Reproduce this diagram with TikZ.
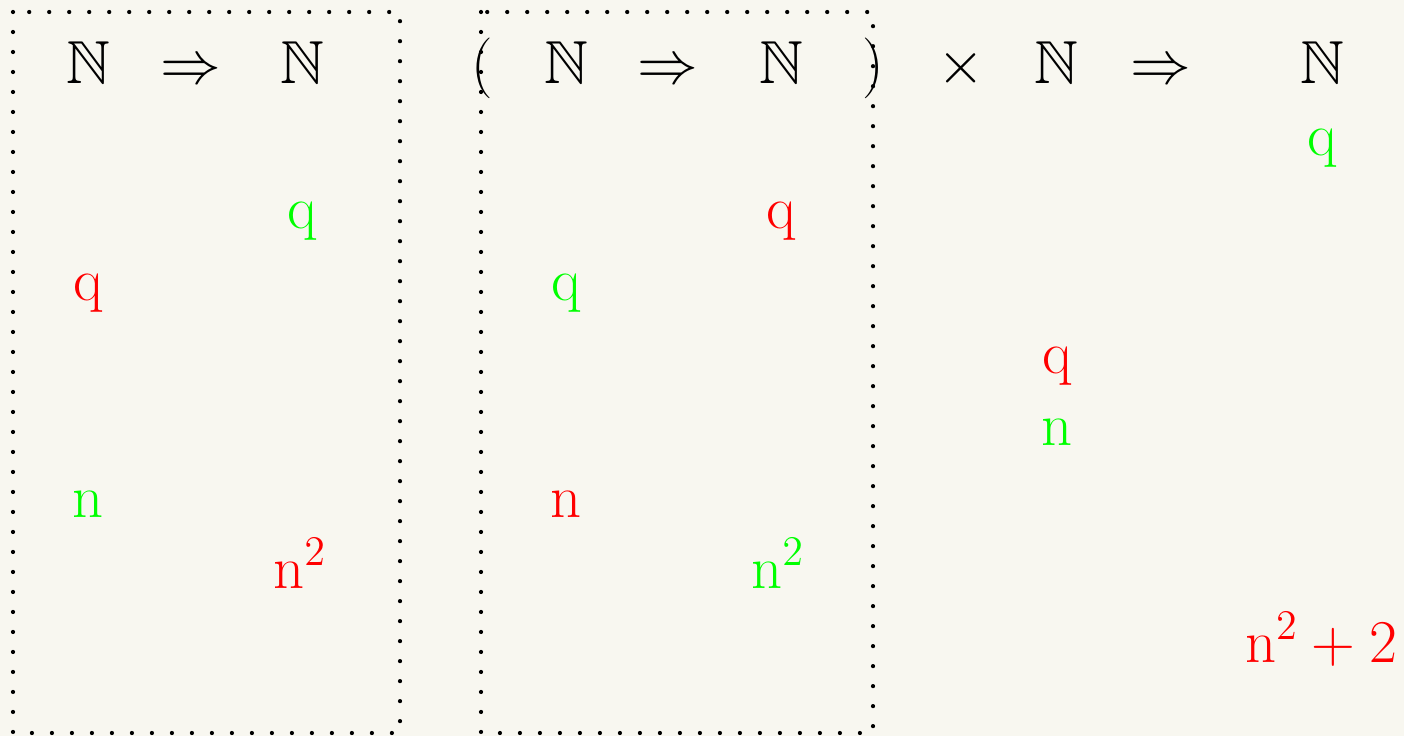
\documentclass[tikz,border=0pt]{standalone}
\usepackage{xcolor}
\usepackage{amssymb}
\usepackage{tikz}
\usetikzlibrary{positioning}
\definecolor{paper}{HTML}{F8F7F0}
\definecolor{hot}{HTML}{FF0000}
\definecolor{cold}{HTML}{00FF00}

\begin{document}
\begin{tikzpicture}[font=\LARGE,
  sym/.style={inner sep=0pt, anchor=base},
  gterm/.style={sym, text=cold},
  rterm/.style={sym, text=hot},
  frame/.style={line width=1.2pt, dash pattern=on 0pt off 5.69pt, line cap=round}]
\fill[paper] (0,0) rectangle (14.04,-7.36);
\useasboundingbox (0,0) rectangle (14.04,-7.36);
% type line
\node[sym] (n1) at (0.88,-0.83) {$\mathbb{N}$};
\node[sym] (to1) at (1.91,-0.83) {$\Rightarrow$};
\node[sym] (n2) at (3.02,-0.83) {$\mathbb{N}$};
\node[sym] (lp) at (4.82,-0.83) {$($};
\node[sym] (n3) at (5.66,-0.83) {$\mathbb{N}$};
\node[sym] (to2) at (6.68,-0.83) {$\Rightarrow$};
\node[sym] (n4) at (7.81,-0.83) {$\mathbb{N}$};
\node[sym] (rp) at (8.73,-0.83) {$)$};
\node[sym] (tm) at (9.61,-0.83) {$\times$};
\node[sym] (n5) at (10.56,-0.83) {$\mathbb{N}$};
\node[sym] (to3) at (11.61,-0.83) {$\Rightarrow$};
\node[sym] (n6) at (13.22,-0.83) {$\mathbb{N}$};
% square
\node[gterm] (qa) at (3.02,-2.28) {q};
\node[rterm] (qb) at (0.88,-3.00) {q};
\node[gterm] (na) at (0.88,-5.17) {n};
\node[rterm] (sa) at (3.00,-5.88) {n$^2$};
% argument
\node[rterm] (qc) at (7.81,-2.28) {q};
\node[gterm] (qd) at (5.66,-3.00) {q};
\node[rterm] (nb) at (5.66,-5.17) {n};
\node[gterm] (sb) at (7.78,-5.88) {n$^2$};
% result
\node[gterm] (qe) at (13.22,-1.55) {q};
\node[rterm] (qf) at (10.57,-3.73) {q};
\node[gterm] (nc) at (10.57,-4.45) {n};
\node[rterm] (res) at (13.21,-6.62) {n$^2+2$};
\draw[frame] (0.13,-0.12) rectangle (4.00,-7.33);
\draw[frame] (4.81,-0.12) rectangle (8.73,-7.33);
\end{tikzpicture}
\end{document}
